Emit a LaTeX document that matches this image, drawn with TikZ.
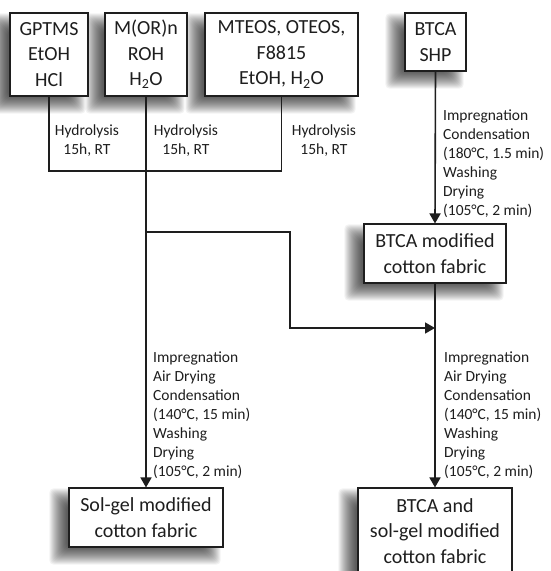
\documentclass[tikz,border=0pt]{standalone}
\usepackage{fontspec}
\setmainfont{Carlito}
\usetikzlibrary{arrows.meta,backgrounds,calc}
\definecolor{ink}{HTML}{1E1E1E}
\tikzset{
  box/.style={draw=ink, line width=1.1pt, fill=white, inner sep=0pt, align=center,
    text=ink, font=\fontsize{20}{25.5}\selectfont},
  lbl/.style={inner sep=0pt, text=ink, font=\fontsize{15.5}{19}\selectfont},
  conn/.style={draw=ink, line width=1.6pt},
  arr/.style={conn, -{Triangle[length=10pt,width=11pt]}},
}
\newcommand{\softshadow}[1]{%
  \foreach \k in {0,...,17}{%
    \pgfmathsetmacro{\e}{\k-9}%
    \fill[black, fill opacity=0.05, rounded corners=4pt]
      ($(#1.south west)+(-11-\e,9+\e)$) rectangle ($(#1.north east)+(-11+\e,9-\e)$);
  }%
}
\begin{document}
\begin{tikzpicture}[x=1pt,y=-1pt]
\useasboundingbox (0,0) rectangle (550,571);
\clip (0,0) rectangle (550,571);

\node[box, minimum width=78pt, minimum height=83pt] (gptms) at (49,54.5) {GPTMS\\EtOH\\HCl};
\node[box, minimum width=82pt, minimum height=83pt] (mor) at (146,54.5) {M(OR)n\\ROH\\H\textsubscript{2}O};
\node[box, minimum width=153pt, minimum height=83pt] (mteos) at (281.5,54.5) {MTEOS, OTEOS,\\F8815\\EtOH, H\textsubscript{2}O};
\node[box, minimum width=61pt, minimum height=58pt] (btca) at (435.5,42) {BTCA\\SHP};
\node[box, minimum width=142pt, minimum height=59pt] (btcamod) at (435,253.5) {BTCA modified\\cotton fabric};
\node[box, minimum width=154pt, minimum height=59pt] (solgel) at (146,517.5) {Sol-gel modified\\cotton fabric};
\node[box, minimum width=154pt, minimum height=86pt] (final) at (435,531) {BTCA and\\sol-gel modified\\cotton fabric};

\begin{scope}[on background layer]
  \fill[white] (0,0) rectangle (550,571);
  \foreach \n in {gptms,mor,mteos,btca,btcamod,solgel,final}{\softshadow{\n}}
\end{scope}

\coordinate (j) at (146,171);
\coordinate (b1) at (146,232);
\coordinate (b2) at (290,328);
\coordinate (m) at (435,328);

\draw[conn] (gptms.south) -- (gptms.south |- j) -- (mteos.south |- j) -- (mteos.south);
\draw[arr] (mor.south) -- (solgel.north);
\draw[arr] (b1) -| (b2) -- (m);
\draw[arr] (btca.south) -- (btcamod.north);
\draw[arr] (btcamod.south) -- (final.north);

\node[lbl, align=center] (h1) at (87,141) {Hydrolysis\\15h, RT};
\node[lbl, align=center] (h2) at (186,141) {Hydrolysis\\15h, RT};
\node[lbl, align=center] (h3) at (324,141) {Hydrolysis\\15h, RT};

\node[lbl, align=left, anchor=west] (p1) at (443,163.5) {Impregnation\\Condensation\\(180°C, 1.5 min)\\Washing\\Drying\\(105°C, 2 min)};
\node[lbl, align=left, anchor=west] (p2) at (153,415) {Impregnation\\Air Drying\\Condensation\\(140°C, 15 min)\\Washing\\Drying\\(105°C, 2 min)};
\node[lbl, align=left, anchor=west] (p3) at (444,415) {Impregnation\\Air Drying\\Condensation\\(140°C, 15 min)\\Washing\\Drying\\(105°C, 2 min)};
\end{tikzpicture}
\end{document}
